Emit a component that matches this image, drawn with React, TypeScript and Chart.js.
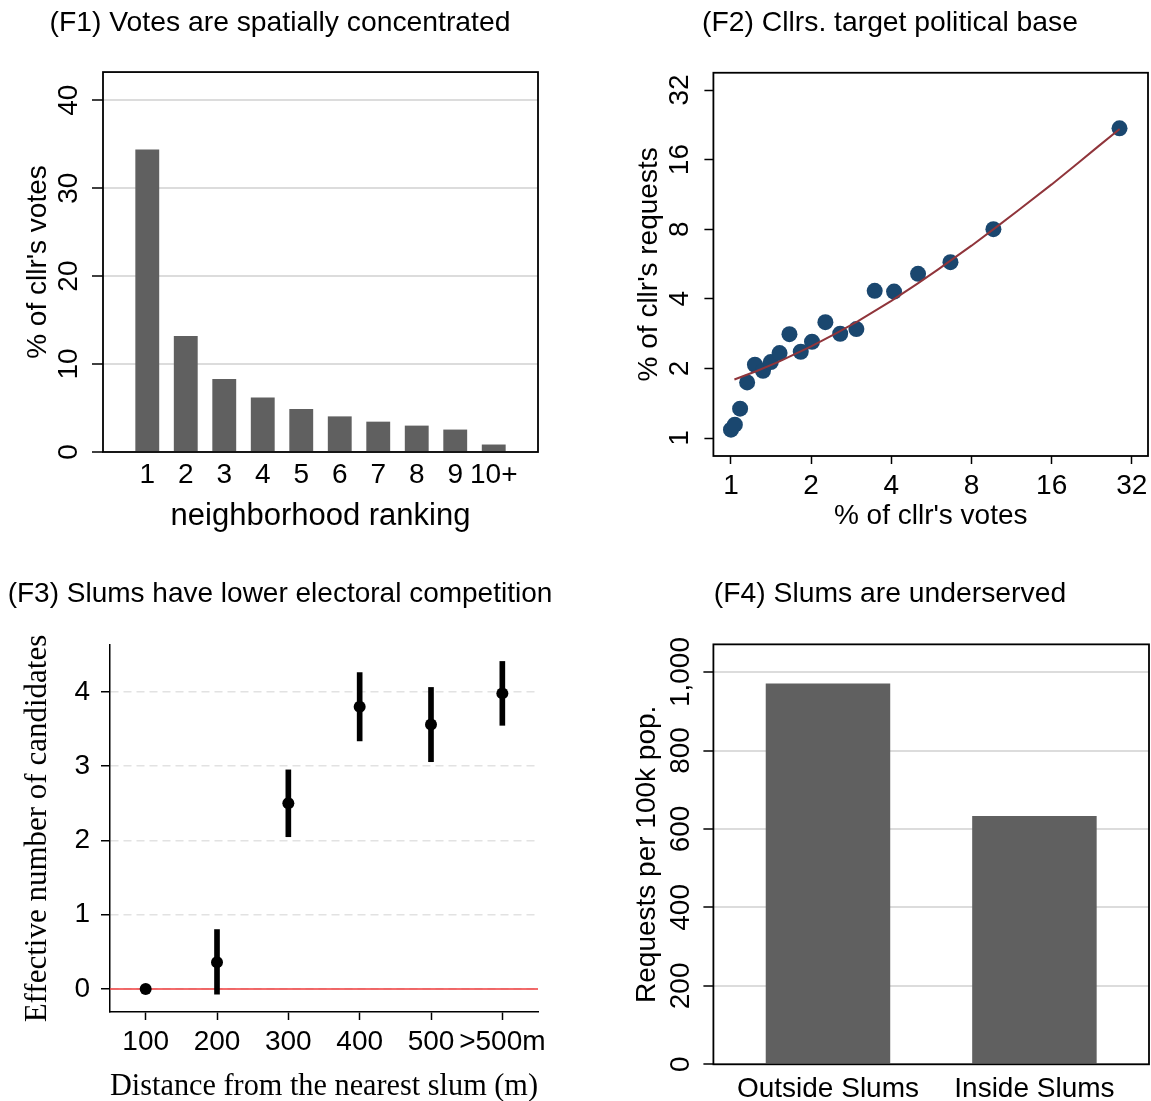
import React, { useEffect, useRef } from 'react';
import { Chart, registerables } from 'chart.js';

Chart.register(...registerables);

// ---------- F1: votes by neighborhood ranking ----------
const f1Ranks = [1, 2, 3, 4, 5, 6, 7, 8, 9, 10];
const f1Labels = ['1', '2', '3', '4', '5', '6', '7', '8', '9', '10+'];
const f1Votes = [34.4, 13.2, 8.3, 6.2, 4.9, 4.05, 3.45, 3.0, 2.55, 0.85];
const f1YTicks = [0, 10, 20, 30, 40];

// ---------- F2: votes vs requests (log-log) ----------
const f2Votes = [1.0, 1.034, 1.082, 1.15, 1.23, 1.319, 1.411, 1.522, 1.658, 1.828, 2.015, 2.262, 2.571, 2.957, 3.465, 4.096, 5.04, 6.67, 9.67, 28.77];
const f2Requests = [1.087, 1.142, 1.339, 1.74, 2.074, 1.954, 2.13, 2.33, 2.814, 2.361, 2.608, 3.171, 2.824, 2.958, 4.33, 4.3, 5.13, 5.76, 8.0, 21.85];
const f2FitX = [1.03, 1.25, 1.5, 2, 2.5, 3, 4, 5, 6, 8, 10, 12, 16, 20, 24, 28.8];
const f2FitY = [1.79, 1.95, 2.13, 2.49, 2.85, 3.2, 3.92, 4.64, 5.36, 6.79, 8.23, 9.67, 12.5, 15.4, 18.3, 21.7];
const f2Ticks = [1, 2, 4, 8, 16, 32];
const f2TickLabels = ['1', '2', '4', '8', '16', '32'];

// ---------- F3: effective number of candidates by distance ----------
const f3Distances = ['100', '200', '300', '400', '500', '>500m'];
const f3Estimate = [0, 0.36, 2.5, 3.8, 3.56, 3.98];
const f3Lower = [0, -0.07, 2.05, 3.34, 3.06, 3.55];
const f3Upper = [0, 0.8, 2.95, 4.26, 4.06, 4.41];
const f3YTicks = [0, 1, 2, 3, 4];
const f3Reference = 0;

// ---------- F4: requests per 100k pop ----------
const f4Groups = ['Outside Slums', 'Inside Slums'];
const f4Positions = [1, 2];
const f4Requests = [971, 633];
const f4YTicks = [0, 200, 400, 600, 800, 1000];
const f4YLabels = ['0', '200', '400', '600', '800', '1,000'];

const SANS = 'Liberation Sans';
const SERIF = 'Liberation Serif';
Chart.defaults.font.family = SANS;
Chart.defaults.font.size = 28;
Chart.defaults.color = '#000';

const fixWidth = (w: number) => (s: any) => {
  s.width = w;
  s.paddingTop = 0; s.paddingBottom = 0; s.paddingLeft = 0; s.paddingRight = 0;
};
const fixHeight = (h: number) => (s: any) => {
  s.height = h;
  s.paddingTop = 0; s.paddingBottom = 0; s.paddingLeft = 0; s.paddingRight = 0;
};
const setTicks = (vals: number[]) => (s: any) => {
  s.ticks = vals.map((v) => ({ value: v }));
};

// invisible right-hand spacer axis so the title stays centred on the whole panel
const spacer = (w: number) => ({
  type: 'linear',
  position: 'right',
  display: true,
  grid: { display: false, drawTicks: false },
  border: { display: false },
  ticks: { display: false },
  afterFit: fixWidth(w),
});

const framePlugin = {
  id: 'frame',
  afterDatasetsDraw(chart: any) {
    const { ctx, chartArea: a } = chart;
    ctx.save();
    ctx.strokeStyle = '#000';
    ctx.lineWidth = 1.8;
    ctx.strokeRect(a.left, a.top, a.right - a.left, a.bottom - a.top);
    ctx.restore();
  },
};

const titleOpt = (text: string, top: number, bottom: number, size = 28.3) => ({
  display: true,
  text,
  color: '#000',
  font: { family: SANS, size, weight: 'normal' as const },
  padding: { top, bottom },
});

const base = {
  responsive: false,
  animation: false as const,
  devicePixelRatio: 1,
};

const layoutOpt = {
  autoPadding: false,
  padding: { left: 0, right: 0, top: 0, bottom: 0 },
};

function makeF1(canvas: HTMLCanvasElement) {
  return new Chart(canvas, {
    type: 'bar',
    data: {
      datasets: [
        {
          data: f1Ranks.map((r, i) => ({ x: r, y: f1Votes[i] })),
          backgroundColor: '#606060',
          borderWidth: 0,
          categoryPercentage: 1,
          barPercentage: 0.62,
        },
      ],
    },
    options: {
      ...base,
      layout: layoutOpt,
      plugins: {
        legend: { display: false },
        tooltip: { enabled: false },
        title: titleOpt('(F1) Votes are spatially concentrated', 6, 32.1),
      },
      scales: {
        x: {
          type: 'linear', min: -0.15, max: 11.15, offset: false,
          afterBuildTicks: setTicks(f1Ranks), afterFit: fixHeight(93),
          grid: { display: false, drawTicks: false },
          border: { display: false },
          ticks: {
            autoSkip: false, minRotation: 0, maxRotation: 0, padding: 6,
            callback: (v: any) => f1Labels[f1Ranks.indexOf(Number(v))] ?? '',
          },
          title: { display: true, text: 'neighborhood ranking', font: { size: 31 }, padding: { top: 0, bottom: 10.4 } },
        },
        y: {
          type: 'linear', min: 0, max: 43.2,
          afterBuildTicks: setTicks(f1YTicks), afterFit: fixWidth(103),
          grid: { color: '#dcdcdc', lineWidth: 2, drawTicks: true, tickLength: 11, tickColor: '#000', tickWidth: 1.5 },
          border: { display: false },
          ticks: {
            autoSkip: false, minRotation: 90, maxRotation: 90, crossAlign: 'center', padding: 6.8,
            callback: (v: any) => String(v),
          },
          title: { display: true, text: "% of cllr's votes", font: { size: 28 }, padding: { top: 21.7, bottom: 0 } },
        },
        yR: spacer(22),
      },
    } as any,
    plugins: [framePlugin],
  });
}

function makeF2(canvas: HTMLCanvasElement) {
  return new Chart(canvas, {
    type: 'scatter',
    data: {
      datasets: [
        {
          data: f2FitX.map((x, i) => ({ x, y: f2FitY[i] })),
          showLine: true,
          borderColor: '#90353b',
          borderWidth: 2,
          pointRadius: 0,
          fill: false,
        },
        {
          data: f2Votes.map((x, i) => ({ x, y: f2Requests[i] })),
          showLine: false,
          pointRadius: 8,
          pointBackgroundColor: '#1a476f',
          pointBorderWidth: 0,
        },
      ],
    },
    options: {
      ...base,
      layout: layoutOpt,
      plugins: {
        legend: { display: false },
        tooltip: { enabled: false },
        title: titleOpt('(F2) Cllrs. target political base', 6, 32.8),
      },
      scales: {
        x: {
          type: 'logarithmic', min: 0.859, max: 36.8,
          afterBuildTicks: setTicks(f2Ticks), afterFit: fixHeight(89),
          grid: { drawOnChartArea: false, drawTicks: true, tickLength: 8, tickColor: '#000', tickWidth: 1.5 },
          border: { display: false },
          ticks: {
            autoSkip: false, minRotation: 0, maxRotation: 0, padding: 5,
            callback: (v: any) => f2TickLabels[f2Ticks.indexOf(Number(v))] ?? '',
          },
          title: { display: true, text: "% of cllr's votes", font: { size: 28 }, padding: { top: 0, bottom: 12.4 } },
        },
        y: {
          type: 'logarithmic', min: 0.836, max: 38,
          afterBuildTicks: setTicks(f2Ticks), afterFit: fixWidth(84.4),
          grid: { drawOnChartArea: false, drawTicks: true, tickLength: 9, tickColor: '#000', tickWidth: 1.5 },
          border: { display: false },
          ticks: {
            autoSkip: false, minRotation: 90, maxRotation: 90, crossAlign: 'center', padding: 8.2,
            callback: (v: any) => f2TickLabels[f2Ticks.indexOf(Number(v))] ?? '',
          },
          title: { display: true, text: "% of cllr's requests", font: { size: 28 }, padding: { top: 3.7, bottom: 0 } },
        },
        yR: spacer(3),
      },
    } as any,
    plugins: [framePlugin],
  });
}

function makeF3(canvas: HTMLCanvasElement) {
  return new Chart(canvas, {
    type: 'bar',
    data: {
      labels: f3Distances,
      datasets: [
        {
          type: 'line',
          data: f3Estimate,
          showLine: false,
          pointRadius: 6,
          pointBackgroundColor: '#000',
          pointBorderWidth: 0,
        },
        {
          type: 'bar',
          data: f3Lower.map((l, i) => [l, f3Upper[i]]),
          backgroundColor: '#000',
          borderWidth: 0,
          grouped: false,
          barThickness: 5,
          maxBarThickness: 5,
        },
        {
          type: 'line',
          xAxisID: 'x2',
          data: [{ x: 0, y: f3Reference }, { x: 1, y: f3Reference }],
          borderColor: '#f03c3c',
          borderWidth: 1.5,
          pointRadius: 0,
        },
      ],
    } as any,
    options: {
      ...base,
      layout: layoutOpt,
      plugins: {
        legend: { display: false },
        tooltip: { enabled: false },
        title: titleOpt('(F3) Slums have lower electoral competition', 7.2, 34.3, 28),
      },
      scales: {
        x: {
          type: 'category', offset: true, afterFit: fixHeight(89),
          grid: { offset: false, drawOnChartArea: false, drawTicks: true, tickLength: 8, tickColor: '#000', tickWidth: 1.5 },
          border: { display: true, color: '#000', width: 1.5 },
          ticks: { autoSkip: false, minRotation: 0, maxRotation: 0, padding: 5 },
          title: {
            display: true, text: 'Distance from the nearest slum (m)',
            font: { family: SERIF, size: 31, lineHeight: 1 }, padding: { top: 0, bottom: -1.5 },
          },
        },
        x2: { type: 'linear', min: 0, max: 1, offset: false, display: false },
        y: {
          type: 'linear', min: -0.31, max: 4.63,
          afterBuildTicks: setTicks(f3YTicks), afterFit: fixWidth(110),
          grid: { color: '#e2e2e2', lineWidth: 1.5, drawTicks: true, tickLength: 9, tickColor: '#000', tickWidth: 1.5 },
          border: { display: true, color: '#000', width: 1.5, dash: [8, 5] },
          ticks: { autoSkip: false, padding: 11, callback: (v: any) => String(v) },
          title: {
            display: true, text: 'Effective number of candidates',
            font: { family: SERIF, size: 31 }, padding: { top: 19.4, bottom: 0 },
          },
        },
        yR: spacer(22),
      },
    } as any,
  });
}

function makeF4(canvas: HTMLCanvasElement) {
  return new Chart(canvas, {
    type: 'bar',
    data: {
      datasets: [
        {
          data: f4Positions.map((p, i) => ({ x: p, y: f4Requests[i] })),
          backgroundColor: '#606060',
          borderWidth: 0,
          categoryPercentage: 1,
          barPercentage: 0.603,
        },
      ],
    },
    options: {
      ...base,
      layout: layoutOpt,
      plugins: {
        legend: { display: false },
        tooltip: { enabled: false },
        title: titleOpt('(F4) Slums are underserved', 7, 33.4),
      },
      scales: {
        x: {
          type: 'linear', min: 0.445, max: 2.555, offset: false,
          afterBuildTicks: setTicks(f4Positions), afterFit: fixHeight(36.7),
          grid: { display: false, drawTicks: false },
          border: { display: false },
          ticks: {
            autoSkip: false, minRotation: 0, maxRotation: 0, padding: 7.7,
            callback: (v: any) => f4Groups[f4Positions.indexOf(Number(v))] ?? '',
          },
        },
        y: {
          type: 'linear', min: 0, max: 1070.6,
          afterBuildTicks: setTicks(f4YTicks), afterFit: fixWidth(84.4),
          grid: { color: '#dcdcdc', lineWidth: 2, drawTicks: true, tickLength: 10, tickColor: '#000', tickWidth: 1.5 },
          border: { display: false },
          ticks: {
            autoSkip: false, minRotation: 90, maxRotation: 90, crossAlign: 'center', padding: -13,
            callback: (v: any) => f4YLabels[f4YTicks.indexOf(Number(v))] ?? '',
          },
          title: { display: true, text: 'Requests per 100k pop.', font: { size: 28 }, padding: { top: 1.7, bottom: 0 } },
        },
        yR: spacer(2),
      },
    } as any,
    plugins: [framePlugin],
  });
}

type BoxProps = {
  left: number;
  top: number;
  width: number;
  height: number;
  make: (c: HTMLCanvasElement) => Chart;
};

function ChartBox({ left, top, width, height, make }: BoxProps) {
  const ref = useRef<HTMLCanvasElement>(null);
  useEffect(() => {
    const chart = make(ref.current as HTMLCanvasElement);
    return () => chart.destroy();
  }, [make]);
  return (
    <div style={{ position: 'absolute', left, top, width, height }}>
      <canvas ref={ref} width={width} height={height} style={{ display: 'block', width, height }} />
    </div>
  );
}

export default function App() {
  return (
    <div
      style={{
        position: 'absolute',
        left: 0,
        top: 0,
        width: 1151,
        height: 1101,
        background: '#fff',
        overflow: 'hidden',
      }}
    >
      <ChartBox left={0} top={0} width={560} height={545} make={makeF1} />
      <ChartBox left={629} top={0} width={522} height={545} make={makeF2} />
      <ChartBox left={0} top={570} width={560} height={531} make={makeF3} />
      <ChartBox left={629} top={570} width={522} height={531} make={makeF4} />
    </div>
  );
}
